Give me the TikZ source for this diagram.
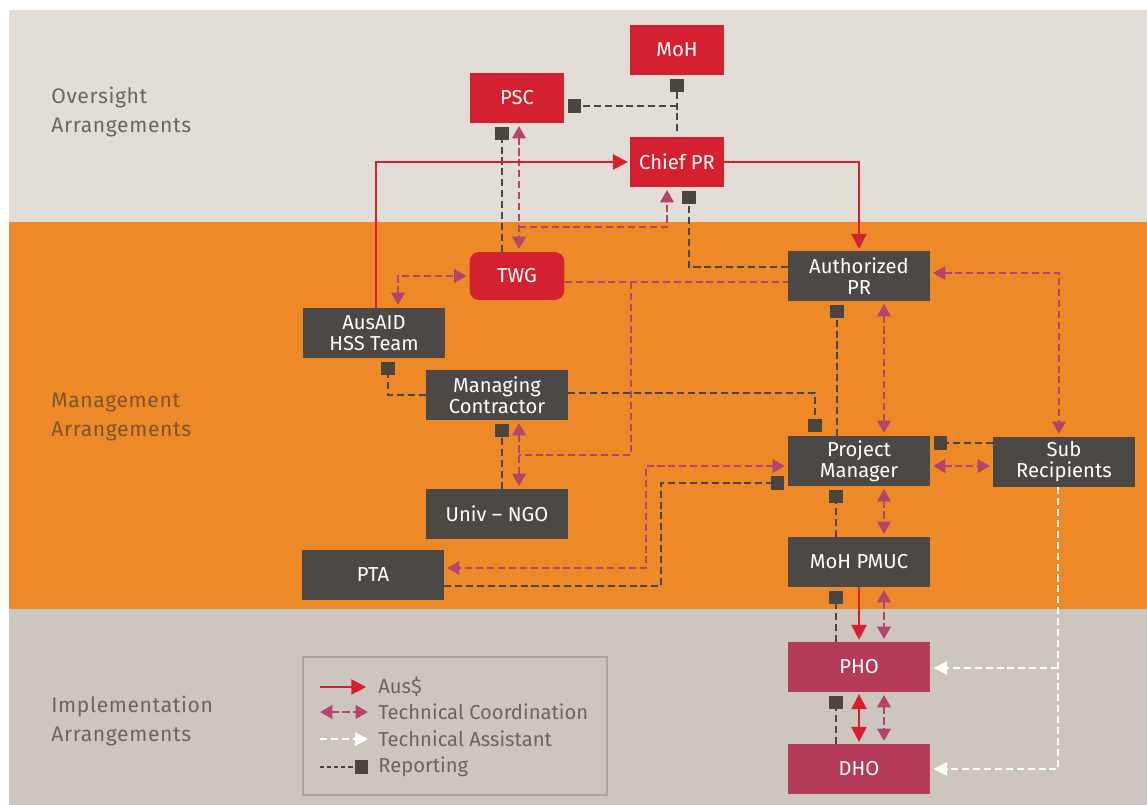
\documentclass[tikz,border=0pt]{standalone}
\usepackage{fontspec}
\setmainfont{Fira Sans}
\usepackage{tikz}
\usetikzlibrary{positioning,calc,arrows.meta}

\definecolor{topband}{HTML}{E3DDD8}
\definecolor{midband}{HTML}{ED8A27}
\definecolor{lowband}{HTML}{CDC6BF}
\definecolor{boxred}{HTML}{D4202F}
\definecolor{boxgrey}{HTML}{4B4845}
\definecolor{boxho}{HTML}{B43C58}
\definecolor{linered}{HTML}{D7202D}
\definecolor{linemag}{HTML}{B3446C}
\definecolor{linerep}{HTML}{4A4541}
\definecolor{labgrey}{HTML}{6B6560}
\definecolor{labbrown}{HTML}{7C5530}
\definecolor{legframe}{HTML}{ABA39C}

\newcommand{\boxfont}{\fontsize{11.5}{12}\selectfont}
\newcommand{\bandfont}{\fontsize{12}{17}\selectfont\addfontfeatures{LetterSpace=3}}

\tikzset{
	redbox/.style={rectangle, fill=boxred, text=white, minimum width=1.88cm, minimum height=1cm, inner sep=0pt, font=\boxfont},
	greybox/.style={rectangle, fill=boxgrey, text=white, minimum width=2.84cm, minimum height=1cm, inner sep=0pt, align=center, font=\boxfont},
	hobox/.style={greybox, fill=boxho},
	bandtext/.style={anchor=west, align=left, inner sep=0pt, font=\bandfont},
	legtext/.style={anchor=west, inner sep=0pt, text=labgrey, font=\boxfont},
	aus/.style={draw=linered, line width=1.4pt, -{Triangle[length=8.5pt,width=8.5pt]}, shorten >=1pt},
	techline/.style={draw=linemag, line width=1.6pt, dash pattern=on 4pt off 2.2pt},
	tech/.style={techline, {Triangle[length=7pt,width=7.5pt]}-{Triangle[length=7pt,width=7.5pt]}, shorten >=1.5pt, shorten <=1.5pt},
	techend/.style={techline, -{Triangle[length=7pt,width=7.5pt]}, shorten >=1.5pt},
	rep/.style={draw=linerep, line width=1.6pt, dash pattern=on 4pt off 2.2pt, -{Square[length=7.5pt,width=7.5pt]}, shorten >=2pt},
	assist/.style={draw=white, line width=1.5pt, dash pattern=on 4pt off 2.2pt, -{Triangle[length=7.5pt,width=7.5pt]}, shorten >=2pt},
}

\begin{document}
\begin{tikzpicture}[x=0.02cm, y=-0.02cm]
	\useasboundingbox (0,0) rectangle (1147,805);
	\fill[white] (0,0) rectangle (1147,805);
	\fill[topband] (9,10) rectangle (1147,222);
	\fill[midband] (9,222) rectangle (1147,609);
	\fill[lowband] (9,609) rectangle (1147,805);

	\node[bandtext, text=labgrey] (OA) at (51,112) {Oversight\\Arrangements};
	\node[bandtext, text=labbrown] (MA) at (51,417) {Management\\Arrangements};
	\node[bandtext, text=labgrey] (IA) at (51,721) {Implementation\\Arrangements};

	\node[redbox] (MoH) at (677,50) {MoH};
	\node[redbox] (PSC) at (517,98) {PSC};
	\node[redbox] (CPR) at (677,162) {Chief PR};
	\node[redbox, rounded corners=0.2cm, minimum width=1.9cm, minimum height=0.96cm] (TWG) at (517,276) {TWG};
	\node[greybox] (APR) at (859,276) {Authorized\\PR};
	\node[greybox] (AUS) at (374,333) {AusAID\\HSS Team};
	\node[greybox] (MC) at (497,395) {Managing\\Contractor};
	\node[greybox] (PM) at (859,461) {Project\\Manager};
	\node[greybox] (SR) at (1064,462) {Sub\\Recipients};
	\node[greybox] (UNGO) at (497,514) {Univ – NGO};
	\node[greybox] (PTA) at (373,575) {PTA};
	\node[greybox] (PMUC) at (859,562) {MoH PMUC};
	\node[hobox] (PHO) at (859,667) {PHO};
	\node[hobox] (DHO) at (859,769) {DHO};

	\coordinate (r1) at (677,106);
	\coordinate (r2) at (661,483);
	\coordinate (t1) at (519,227);
	\coordinate (t2) at (631,282);
	\coordinate (t3) at (519,455);
	\coordinate (t4) at (646,568);
	\coordinate (a1) at (1058,668);

	\draw[rep, shorten <=3pt] (CPR.north) -- (MoH.south);
	\draw[rep] (r1) -- (r1 -| PSC.east);
	\draw[rep] ([xshift=-0.3cm]TWG.north) -- ([xshift=-0.3cm]PSC.south);
	\draw[rep] ([yshift=0.18cm]APR.west) -| ([xshift=0.24cm]CPR.south);
	\draw[rep] ([xshift=-0.44cm]PM.north) -- ([xshift=-0.44cm]APR.south);
	\draw[rep] ([yshift=0.04cm]MC.east) -| ([xshift=-0.88cm]PM.north);
	\draw[rep] (MC.west) -| ([xshift=0.28cm]AUS.south);
	\draw[rep] ([xshift=0.1cm]UNGO.north) -- ([xshift=0.1cm]MC.south);
	\draw[rep] ([yshift=-0.22cm]PTA.east) -| (r2) -- (r2 -| PM.west);
	\draw[rep] ([yshift=0.38cm]SR.west) -- ([yshift=0.38cm]SR.west -| PM.east);
	\draw[rep] ([xshift=-0.46cm]PMUC.north) -- ([xshift=-0.46cm]PM.south);
	\draw[rep] ([xshift=-0.46cm]PHO.north) -- ([xshift=-0.46cm]PMUC.south);
	\draw[rep] ([xshift=-0.46cm]DHO.north) -- ([xshift=-0.46cm]PHO.south);

	\draw[tech] ([xshift=0.04cm]PSC.south) -- ([xshift=0.04cm]TWG.north);
	\draw[techend] (t1) -| ([xshift=-0.2cm]CPR.south);
	\draw[tech] ([xshift=0.48cm]AUS.north) |- (TWG.west);
	\draw[techline] ([yshift=-0.12cm]TWG.east) -- ([yshift=-0.12cm]TWG.east -| APR.west);
	\draw[techline] (t2) |- (t3);
	\draw[tech] ([xshift=0.44cm]MC.south) -- ([xshift=0.44cm]UNGO.north);
	\draw[tech] ([yshift=0.06cm]APR.east) -| ([xshift=-0.1cm]SR.north);
	\draw[tech] ([xshift=0.5cm]APR.south) -- ([xshift=0.5cm]PM.north);
	\draw[tech] ([yshift=-0.1cm]PM.east) -- ([yshift=-0.1cm]PM.east -| SR.west);
	\draw[tech] ([yshift=-0.1cm]PM.west) -| (t4) -- (t4 -| PTA.east);
	\draw[tech] ([xshift=0.5cm]PM.south) -- ([xshift=0.5cm]PMUC.north);
	\draw[tech] ([xshift=0.5cm]PMUC.south) -- ([xshift=0.5cm]PHO.north);
	\draw[tech] ([xshift=0.5cm]PHO.south) -- ([xshift=0.5cm]DHO.north);

	\draw[aus] ([xshift=0.04cm]AUS.north) |- (CPR.west);
	\draw[aus] (CPR.east) -| (APR.north);
	\draw[aus] (PMUC.south) -- (PHO.north);
	\draw[aus, {Triangle[length=8.5pt,width=8.5pt]}-{Triangle[length=8.5pt,width=8.5pt]}, shorten <=1pt] (PHO.south) -- (DHO.north);

	\draw[assist] ([xshift=-0.12cm]SR.south) |- (DHO.east);
	\draw[assist] (a1) -- (a1 -| PHO.east);

	\draw[legframe, line width=1.2pt] (303,657) rectangle (607,795);
	\coordinate (k1) at (320,687);
	\coordinate (k2) at (320,712);
	\coordinate (k3) at (320,739);
	\coordinate (k4) at (320,767);
	\draw[aus] (k1) -- ++(48,0);
	\draw[tech, shorten <=0pt, shorten >=0pt] (k2) -- ++(48,0);
	\draw[assist, shorten >=0pt] (k3) -- ++(48,0);
	\draw[rep, line width=1pt, dash pattern=on 2.5pt off 1.5pt, shorten >=0pt] (k4) -- ++(48,0);
	\node[legtext] (L1) at (378,687) {Aus\$};
	\node[legtext] (L2) at (378,712) {Technical Coordination};
	\node[legtext] (L3) at (378,739) {Technical Assistant};
	\node[legtext] (L4) at (378,767) {Reporting};
\end{tikzpicture}
\end{document}
